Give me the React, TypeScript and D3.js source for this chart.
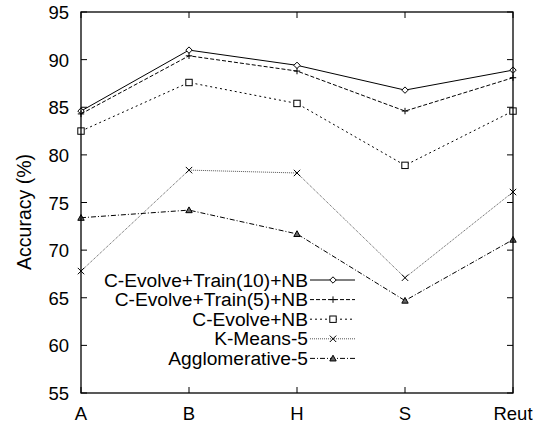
import * as d3 from "d3";

const categories = ["A", "B", "H", "S", "Reut"];
const yTicks = [55, 60, 65, 70, 75, 80, 85, 90, 95];

const seriesNames = [
  "C-Evolve+Train(10)+NB",
  "C-Evolve+Train(5)+NB",
  "C-Evolve+NB",
  "K-Means-5",
  "Agglomerative-5",
];
const train10 = [84.6, 91.0, 89.4, 86.8, 88.9];
const train5 = [84.3, 90.4, 88.8, 84.6, 88.1];
const evolveNB = [82.5, 87.6, 85.4, 78.9, 84.6];
const kmeans = [67.8, 78.4, 78.1, 67.1, 76.1];
const agglo = [73.4, 74.2, 71.7, 64.7, 71.1];

const seriesValues = [train10, train5, evolveNB, kmeans, agglo];
const dashes = ["none", "4,2", "2,3", "1,1", "5,2,1,2"];
const strokes = ["#000", "#000", "#000", "#555", "#000"];
const markers = ["diamond", "plus", "square", "cross", "triangle"];

function Marker({type, x, y}: {type: string; x: number; y: number}) {
  const s = 3.2;
  if (type === "diamond")
    return <polygon points={`${x},${y - s} ${x + s},${y} ${x},${y + s} ${x - s},${y}`} fill="white" stroke="#000" strokeWidth={1}/>;
  if (type === "plus")
    return <path d={`M${x - s},${y}H${x + s}M${x},${y - s}V${y + s}`} stroke="#000" strokeWidth={1}/>;
  if (type === "square")
    return <rect x={x - s} y={y - s} width={2 * s} height={2 * s} fill="white" stroke="#000" strokeWidth={1}/>;
  if (type === "cross")
    return <path d={`M${x - s},${y - s}L${x + s},${y + s}M${x - s},${y + s}L${x + s},${y - s}`} stroke="#000" strokeWidth={1}/>;
  return <polygon points={`${x},${y - s} ${x + s},${y + s * 0.8} ${x - s},${y + s * 0.8}`} fill="#666" stroke="#000" strokeWidth={1}/>;
}

export default function App() {
  const width = 536;
  const height = 423;
  const margin = {top: 12, right: 23, bottom: 30, left: 81};

  const xScale = d3.scalePoint<string>()
    .domain(categories)
    .range([margin.left, width - margin.right]);
  const yScale = d3.scaleLinear()
    .domain([55, 95])
    .range([height - margin.bottom, margin.top]);

  const line = d3.line<number>()
    .x((_, i) => xScale(categories[i]) as number)
    .y(d => yScale(d));

  const x0 = margin.left, x1 = width - margin.right;
  const y0 = margin.top, y1 = height - margin.bottom;
  const font = "Liberation Sans, Arial, Helvetica, sans-serif";
  const tick = 6;

  const legendX = 308;
  const legendY = 280;
  const legendStep = 19.6;

  return (
    <svg width={width} height={height} style={{position: "absolute", left: 0, top: 0}} fontFamily={font}>
      <rect width={width} height={height} fill="white"/>
      {yTicks.map(t => (
        <g key={t}>
          <line x1={x0} x2={x0 + tick} y1={yScale(t)} y2={yScale(t)} stroke="#000"/>
          <line x1={x1} x2={x1 - tick} y1={yScale(t)} y2={yScale(t)} stroke="#000"/>
          <text x={x0 - 12} y={yScale(t) + 7} fontSize={18.5} textAnchor="end">{t}</text>
        </g>
      ))}
      {categories.map(c => (
        <g key={c}>
          <line x1={xScale(c)} x2={xScale(c)} y1={y1} y2={y1 - tick} stroke="#000"/>
          <line x1={xScale(c)} x2={xScale(c)} y1={y0} y2={y0 + tick} stroke="#000"/>
          <text x={xScale(c)} y={y1 + 27} fontSize={18.5} textAnchor="middle">{c}</text>
        </g>
      ))}
      <text transform={`translate(31, 212) rotate(-90)`} fontSize={19.5} textAnchor="middle">Accuracy (%)</text>

      {seriesValues.map((vals, si) => (
        <g key={si}>
          <path d={line(vals) || ""} fill="none" stroke={strokes[si]} strokeWidth={1} strokeDasharray={dashes[si]}/>
          {vals.map((v, i) => (
            <Marker key={i} type={markers[si]} x={xScale(categories[i]) as number} y={yScale(v)}/>
          ))}
        </g>
      ))}

      {seriesNames.map((name, si) => {
        const ly = legendY + si * legendStep;
        return (
          <g key={name}>
            <text x={legendX} y={ly + 6.5} fontSize={19.2} textAnchor="end">{name}</text>
            <line x1={legendX + 2} x2={legendX + 47} y1={ly} y2={ly} stroke={strokes[si]} strokeDasharray={dashes[si]}/>
            <Marker type={markers[si]} x={legendX + 25} y={ly}/>
          </g>
        );
      })}

      <rect x={x0} y={y0} width={x1 - x0} height={y1 - y0} fill="none" stroke="#000" strokeWidth={1.3}/>
    </svg>
  );
}
